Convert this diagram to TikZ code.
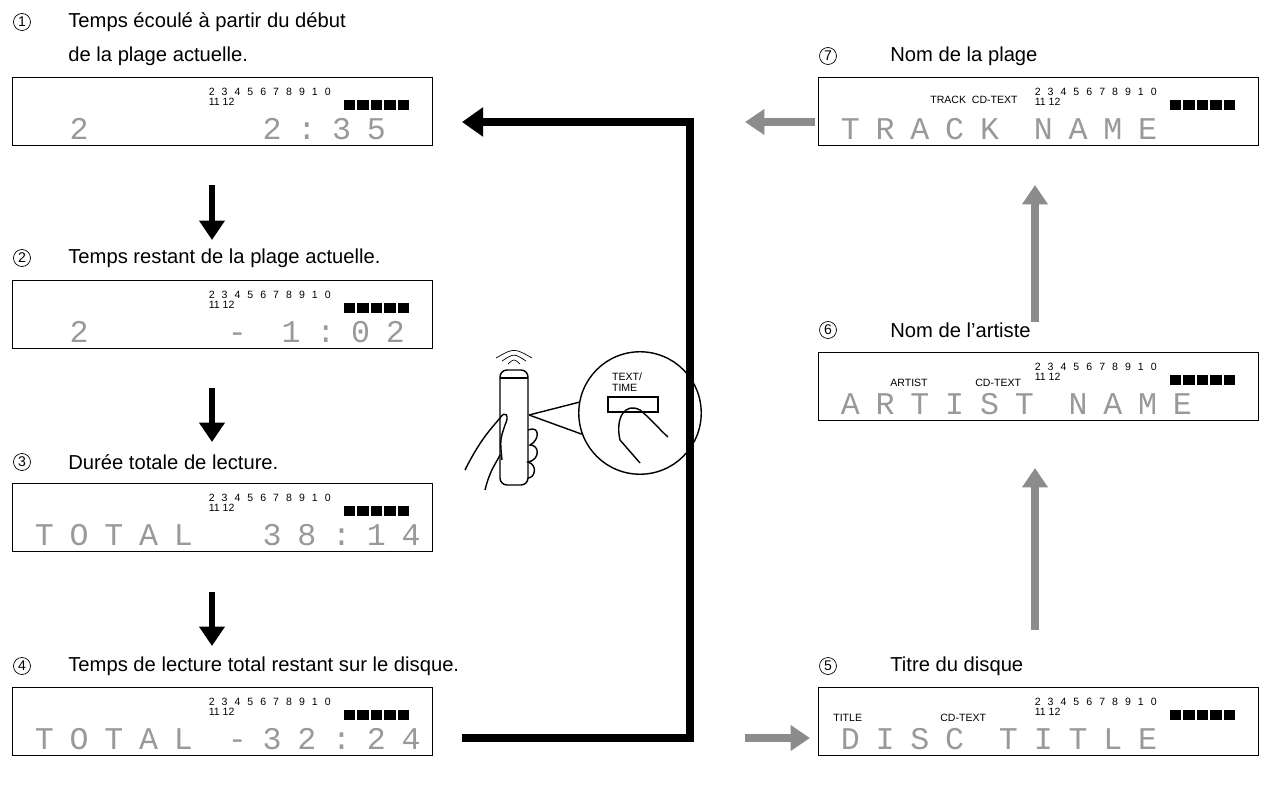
\documentclass[tikz,border=0pt]{standalone}
\usepackage{fontspec}
\setmainfont{Liberation Sans}
\newfontfamily\lcdfont{Liberation Mono}[LetterSpace=50]
\usetikzlibrary{positioning, arrows.meta}
\definecolor{lcdgray}{gray}{0.6}
\definecolor{arrgray}{gray}{0.55}

\newcommand{\digs}{2\hspace{4pt}3\hspace{4pt}4\hspace{4pt}5\hspace{4pt}6\hspace{4pt}7\hspace{4pt}8\hspace{4pt}9\hspace{4pt}1\hspace{4pt}0}

% one LCD panel: name, left x, top y, width, big text
\newcommand{\lcdpanel}[5]{%
  \node[lcd, minimum width=#4*0.02cm, anchor=north west] (#1) at (#2,#3) {};
  \node[anchor=north west, font=\fontsize{6}{6}\selectfont, inner sep=0]
    (#1num) at ([xshift=-4.5cm, yshift=-0.22cm]#1.north east) {\digs};
  \node[anchor=north west, font=\fontsize{6}{6}\selectfont, inner sep=0]
    (#1sub) at ([yshift=-0.04cm]#1num.south west) {11 12};
  \foreach \i in {0,...,4}
    \fill ([xshift=-0.48cm-\i*0.27cm, yshift=-0.46cm]#1.north east) rectangle ++(-0.23cm,-0.2cm);
  \node[lcdtxt, anchor=south west] (#1txt) at ([xshift=0.45cm, yshift=0.12cm]#1.south west) {#5};
}

\begin{document}
\begin{tikzpicture}[x=0.02cm, y=-0.02cm, font=\fontsize{11.5}{14}\selectfont,
  lcd/.style={draw, thick, minimum height=1.36cm, inner sep=0},
  lcdtxt/.style={font=\lcdfont\fontsize{18}{18}\selectfont, text=lcdgray, inner sep=0},
  title/.style={anchor=west, inner sep=0},
  cnum/.style={draw, circle, minimum size=0.34cm, inner sep=0, font=\fontsize{8}{8}\selectfont},
  downarr/.style={line width=3pt, -{Triangle[length=11pt,width=14pt]}},
  grayarr/.style={line width=4pt, arrgray, -{Triangle[length=11pt,width=14pt]}}]
\useasboundingbox (0,0) rectangle (1268,787);

% left column
\node[cnum] (n1) at (22,22) {1};
\node[title] (t1) at (68,22) {Temps écoulé à partir du début};
\node[title] (t1b) at (68,56) {de la plage actuelle.};
\lcdpanel{d1}{12}{77}{420}{\ 2\ \ \ \ \ 2:35}
\node[cnum] (n2) at (22,258) {2};
\node[title] (t2) at (68,258) {Temps restant de la plage actuelle.};
\lcdpanel{d2}{12}{280}{420}{\ 2\ \ \ \ -\ 1:02}
\node[cnum] (n3) at (22,462) {3};
\node[title] (t3) at (68,462) {Durée totale de lecture.};
\lcdpanel{d3}{12}{483}{420}{TOTAL\ \ 38:14}
\node[cnum] (n4) at (22,666) {4};
\node[title] (t4) at (68,666) {Temps de lecture total restant sur le disque.};
\lcdpanel{d4}{12}{687}{420}{TOTAL -32:24}

% right column
\node[cnum] (n7) at (828,56) {7};
\node[title] (t7) at (890,56) {Nom de la plage};
\lcdpanel{d7}{818}{77}{440}{TRACK NAME}
\node[font=\fontsize{6}{6}\selectfont, inner sep=0, anchor=west] (l7) at (930,100) {TRACK\ \ CD-TEXT};
\node[cnum] (n6) at (828,330) {6};
\node[title] (t6) at (890,330) {Nom de l'artiste};
\lcdpanel{d6}{818}{352}{440}{ARTIST NAME}
\node[font=\fontsize{6}{6}\selectfont, inner sep=0, anchor=west] (l6a) at (890,383) {ARTIST};
\node[font=\fontsize{6}{6}\selectfont, inner sep=0, anchor=west] (l6b) at (975,383) {CD-TEXT};
\node[cnum] (n5) at (828,666) {5};
\node[title] (t5) at (890,666) {Titre du disque};
\lcdpanel{d5}{818}{687}{440}{DISC TITLE}
\node[font=\fontsize{6}{6}\selectfont, inner sep=0, anchor=west] (l5a) at (833,718) {TITLE};
\node[font=\fontsize{6}{6}\selectfont, inner sep=0, anchor=west] (l5b) at (940,718) {CD-TEXT};

% flow arrows
\coordinate (a1) at (212,185); \coordinate (b1) at (212,240);
\coordinate (a2) at (212,388); \coordinate (b2) at (212,442);
\coordinate (a3) at (212,592); \coordinate (b3) at (212,646);
\foreach \k in {1,2,3} \draw[downarr] (a\k) -- (b\k);
\coordinate (c1) at (462,738);
\coordinate (c2) at (690,738);
\coordinate (c3) at (690,122);
\coordinate (c4) at (462,122);
\draw[line width=4pt, -{Triangle[length=12pt,width=16pt]}] (c1) -- (c2) -- (c3) -- (c4);
\coordinate (g1) at (745,738); \coordinate (h1) at (810,738);
\coordinate (g2) at (1035,630); \coordinate (h2) at (1035,468);
\coordinate (g3) at (1035,322); \coordinate (h3) at (1035,185);
\coordinate (g4) at (815,122); \coordinate (h4) at (745,122);
\foreach \k in {1,...,4} \draw[grayarr] (g\k) -- (h\k);

% remote control
\draw[thick, rounded corners=4pt] (500,370) rectangle (528,485);
\draw[thick] (500,378) -- (528,378);
\foreach \r in {6,12,18}
  \draw (514-\r,367-\r*0.5) .. controls (514,364-\r*0.9) .. (514+\r,367-\r*0.5);
\node[draw, thick, circle, minimum size=2.45cm] (zoom) at (640,413) {};
\draw[thick] (529,415) -- (zoom.200);
\draw[thick] (529,415) -- (zoom.170);
\draw[thick] (608,397) rectangle (658,412);
\node[font=\fontsize{6}{6}\selectfont, align=left, inner sep=0] (btn) at (627,382) {TEXT/\\TIME};
\draw[thick] (620,440) .. controls (615,418) and (625,402) .. (640,410)
  .. controls (650,418) and (660,430) .. (668,437);
\draw[thick] (620,440) -- (640,463);
% hand
\draw[thick] (465,470) .. controls (480,440) and (490,430) .. (500,418)
  .. controls (505,410) and (510,415) .. (505,425) .. controls (500,440) .. (502,460);
\draw[thick] (485,490) .. controls (490,470) and (495,465) .. (500,455);
\draw[thick] (528,430) .. controls (540,425) and (540,440) .. (530,445)
  .. controls (540,445) and (540,460) .. (528,462)
  .. controls (538,465) and (535,478) .. (528,478);
\end{tikzpicture}
\end{document}
